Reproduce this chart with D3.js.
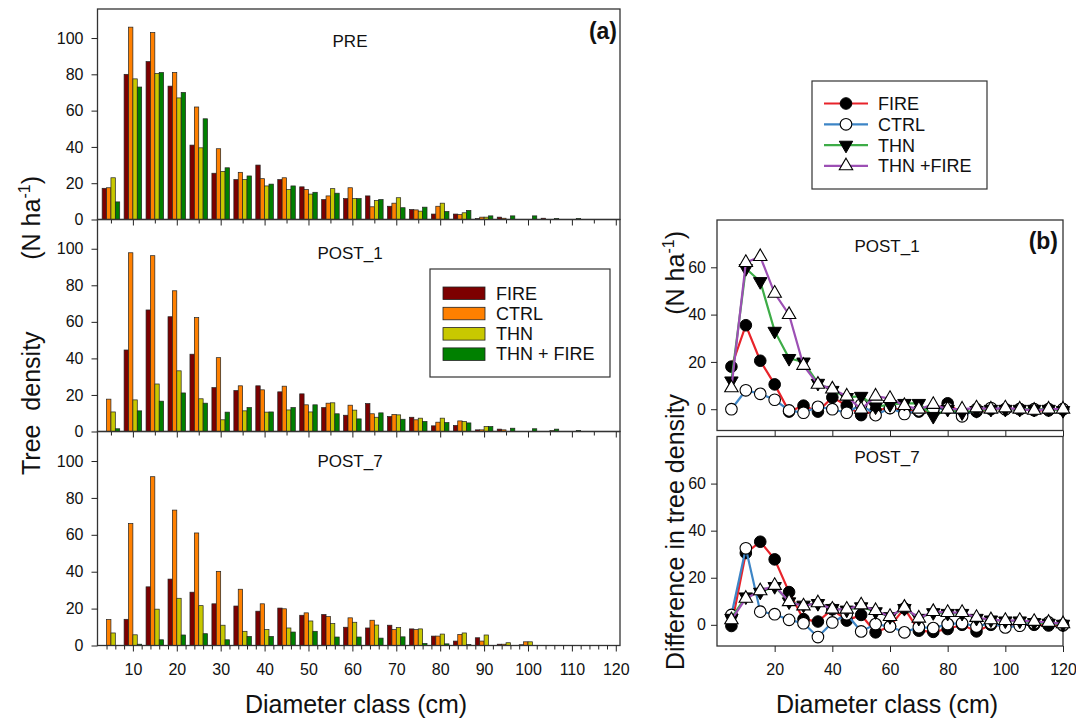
<!DOCTYPE html>
<html><head><meta charset="utf-8">
<script src="https://cdn.jsdelivr.net/npm/d3@7/dist/d3.min.js"></script>
<style>
body{margin:0;background:#fff}
text{font-family:"Liberation Sans",Arial,sans-serif;fill:#111}
</style>
</head><body>
<svg id="c" width="1076" height="728"></svg>
<script>
// ---------- DATA ----------
const classes = [5,10,15,20,25,30,35,40,45,50,55,60,65,70,75,80,85,90,95,100,105,110,115,120];
const barSeries = ["FIRE","CTRL","THN","THN + FIRE"];
const lineSeries = ["FIRE","CTRL","THN","THN +FIRE"];
const periodsA = ["PRE","POST_1","POST_7"];
const periodsB = ["POST_1","POST_7"];
const yTicksA = [0,20,40,60,80,100];
const yTicksB = [0,20,40,60];
const xTicksA = [10,20,30,40,50,60,70,80,90,100,110,120];
const xTicksB = [20,40,60,80,100,120];

// (a) tree density (N ha-1)
const pre_FIRE = [17.2,80,87,73.5,41,25.5,22,30,22,18,11,11.5,13,7.3,5.5,3,3,0.5,1.3,0,0.7,0,0,0];
const pre_CTRL = [17.5,106,103,81,62,39,26,22.5,23,16.5,13,17.5,7,9,5.3,7.3,2.7,1.3,0.7,0,0,0,0,0];
const pre_THN  = [23,77.5,80.5,67,39.5,26.5,22,18.5,16.5,14,17,11.5,10.5,12,4.6,9,3.7,1.3,0,0,0,0,0,0];
const pre_TF   = [9.7,73,81,70,55.5,28.5,24,19.5,18.5,15,14.5,11.5,11,6.5,6.8,4.4,5,2,2,2,0.6,0.6,0,0];

const post1_FIRE = [0,44.6,66.5,62.8,42.3,24,22.4,25,21.7,20.6,13.1,8.9,15.3,8.2,7.8,3.1,3.3,0.9,1.3,0,0,0,0,0];
const post1_CTRL = [17.7,97.8,96.2,77,62.3,40.4,25,22.8,24.8,14.6,15.5,14.4,9.7,9.3,6.4,5.1,5.8,0.9,0.9,0,0,0,0,0];
const post1_THN  = [10.7,17.3,26,33.2,17.9,6.4,11.3,10.6,11.8,10.7,15.7,11.7,7.8,9.1,7.3,7.3,5.5,2.7,0,0,0.5,0,0,0];
const post1_TF   = [1.5,11.3,16.6,21.1,15.5,10.6,13.1,10.7,13.1,14.6,9.7,6.9,10.2,6.7,5.5,4.9,4.7,2.7,1.8,1.5,1.3,0.6,0,0];

const post7_FIRE = [0,14.2,31.8,36,28.9,22.6,21.4,18.6,20.3,16.4,16.8,9.9,9.5,11,9,5.1,2.4,4.2,0.7,0.4,0,0,0,0];
const post7_CTRL = [14.1,66.1,91.5,73.4,61,40.2,30.5,22.6,19.9,17.7,15.7,15,13.7,8.6,8.6,5.1,6,2.4,0.7,2,0,0,0,0];
const post7_THN  = [6.8,5.8,19.7,25.6,21.6,11,7.7,8.6,9.5,13.3,11.9,12.6,11.1,9.7,9,6.2,6.8,5.7,1.5,2,0,0,0,0];
const post7_TF   = [0,0.7,3.1,5.7,6.4,3.1,4.9,4.9,7.3,7.7,4.6,4.6,4,4.7,1.1,0.9,0.5,0,0,0,0,0,0,0];

// (b) difference in tree density (N ha-1)
const d1_FIRE = [18,35.5,20.5,10.5,-1,1.5,-1,5,1.5,-2.5,-0.5,0.5,-0.5,-1,-0.5,2.5,-2,-1,0,0,0,-0.5,-0.5,0];
const d1_CTRL = [0,8,6.5,4,-0.5,-1.5,1,0,-1.5,2,-2.5,0.5,-2,-0.5,0,0.5,-3,0,0.5,0,0,0,0,0];
const d1_THN  = [12,59.5,54,33,21.5,20,11,8,5,5.5,1,2,2.5,2.5,-3,0,-1.5,-0.5,0,0,0,0,0,-0.5];
const d1_TF   = [9,62,64.5,49,40,18.5,10.5,8.5,5.5,0,5.5,4.5,1.5,0,2,0,0,0.5,0,0.5,0,-0.5,0,0];

const d7_FIRE = [-0.5,30.5,35.3,27.8,13.9,2.4,1.4,6.6,1.8,4.2,-3.2,-0.7,7,-2.5,-3,-1.8,0,-2.8,0,-0.4,0,0,-0.3,-0.3];
const d7_CTRL = [4.2,32.5,5.6,4.5,2.1,0.7,-5.2,1,4.5,-2.8,0.3,-0.7,-3.2,-1,-1.4,0.3,0.7,-0.7,0.7,-1.1,-0.4,0.7,1,0];
const d7_THN  = [2.8,11.9,13.9,16.3,9.8,8.4,9.1,7,6.3,7.7,5.6,3.5,7,2.8,5.2,4.9,4.9,2.8,2.1,1.7,1.7,1,0.7,0.3];
const d7_TF   = [2.1,11.2,14.4,16.7,9.8,8,9.3,6.6,6.6,8.4,6,3.5,7.4,2.8,5.6,5.2,5.2,3.1,2.1,1.8,1.8,1.4,1,0.4];

// ---------- STYLE / LAYOUT ----------
const svg = d3.select("#c");
const FONT = '"Liberation Sans",Arial,sans-serif';
const barColors = ["#7d0000","#ff8000","#c8c800","#008000"];
const lineColors = ["#e8232a","#3d85c6","#3dac47","#9c4fb4"];
const frameColor = "#333";

const dataA = [
  [pre_FIRE,pre_CTRL,pre_THN,pre_TF],
  [post1_FIRE,post1_CTRL,post1_THN,post1_TF],
  [post7_FIRE,post7_CTRL,post7_THN,post7_TF]
];
const dataB = [
  [d1_FIRE,d1_CTRL,d1_THN,d1_TF],
  [d7_FIRE,d7_CTRL,d7_THN,d7_TF]
];

const boxA = [{t:9,b:219.5,title:47},{t:219.5,b:431.5,title:259},{t:431.5,b:645.5,title:467}];
const AL = 97.5, AR = 620;
const xA = d3.scaleLinear().domain([1.94,120.96]).range([AL,AR]);

function styleAxis(g, size){
  g.attr("font-family",FONT).attr("font-size",size).attr("color","#222");
  g.select(".domain").remove();
  g.selectAll("text").style("fill","#111");
  g.selectAll("line").attr("stroke-width",1);
}

boxA.forEach((bx,i)=>{
  const y = d3.scaleLinear().domain([0,116]).range([bx.b,bx.t]);
  const g = svg.append("g");
  // bars
  dataA[i].forEach((vals,k)=>{
    g.selectAll(null).data(classes.map((c,j)=>({c,v:vals[j]})).filter(d=>d.v>0))
      .enter().append("rect")
      .attr("x",d=>xA(d.c-2+k))
      .attr("width",d=>xA(d.c-1+k)-xA(d.c-2+k))
      .attr("y",d=>y(d.v))
      .attr("height",d=>y(0)-y(d.v))
      .attr("fill",barColors[k])
      .attr("stroke","#222").attr("stroke-width",0.7);
  });
  // frame
  g.append("rect").attr("x",AL).attr("y",bx.t).attr("width",AR-AL).attr("height",bx.b-bx.t)
    .attr("fill","none").attr("stroke",frameColor).attr("stroke-width",1.3);
  // y axis
  g.append("g").attr("transform",`translate(${AL},0)`)
    .call(d3.axisLeft(y).tickValues(yTicksA).tickSize(6).tickPadding(8))
    .call(s=>styleAxis(s,16));
  // x axis
  if(i<2){
    g.append("g").attr("transform",`translate(0,${bx.b})`)
      .call(d3.axisBottom(xA).tickValues(xTicksA).tickSize(6).tickFormat(""))
      .call(s=>styleAxis(s,16));
    g.append("g").attr("transform",`translate(0,${bx.b})`)
      .call(d3.axisBottom(xA).tickValues(classes.filter(c=>c%10!==0)).tickSize(4).tickFormat(""))
      .call(s=>styleAxis(s,16));
  } else {
    g.append("g").attr("transform",`translate(0,${bx.b})`)
      .call(d3.axisBottom(xA).tickValues(xTicksA).tickSize(6).tickPadding(12))
      .call(s=>styleAxis(s,16));
    g.append("g").attr("transform",`translate(0,${bx.b})`)
      .call(d3.axisBottom(xA).tickValues(d3.range(4,121,2).filter(c=>c%10!==0)).tickSize(4).tickFormat(""))
      .call(s=>styleAxis(s,16));
  }
  g.append("text").attr("x",350).attr("y",bx.title).attr("text-anchor","middle")
    .attr("font-size",17).text(periodsA[i]);
});
svg.append("text").attr("x",617).attr("y",38.5).attr("text-anchor","end")
  .attr("font-size",23).attr("font-weight","bold").text("(a)");

// legend (a)
const lgA = svg.append("g");
lgA.append("rect").attr("x",430).attr("y",269).attr("width",180).attr("height",108)
  .attr("fill","#fff").attr("stroke",frameColor).attr("stroke-width",1.2);
barSeries.forEach((s,k)=>{
  const yy = 287 + k*20.3;
  lgA.append("rect").attr("x",443).attr("y",yy).attr("width",42).attr("height",12.5)
    .attr("fill",barColors[k]).attr("stroke","#222").attr("stroke-width",0.8);
  lgA.append("text").attr("x",496).attr("y",yy+12.5).attr("font-size",18).text(s);
});

// axis titles (a)
svg.append("text").attr("transform","translate(40,475) rotate(-90)").attr("font-size",25)
  .style("white-space","pre").text("Tree  density");
const ta = svg.append("text").attr("transform","translate(40,176) rotate(-90)")
  .attr("text-anchor","end").attr("font-size",25);
ta.append("tspan").text("(N ha");
ta.append("tspan").attr("font-size",16).attr("dy",-10).text("-1");
ta.append("tspan").attr("dy",10).text(")");
svg.append("text").attr("x",356).attr("y",713).attr("text-anchor","middle")
  .attr("font-size",25).text("Diameter class (cm)");

// ---------- PANEL (b) ----------
const BL = 717, BR = 1063;
const xB = d3.scaleLinear().domain([0,120]).range([BL,BR]);
const boxB = [{t:220,b:430.5,title:251.5},{t:436.5,b:646,title:463}];
const tri = d3.symbol().type(d3.symbolTriangle).size(78);

function marker(sel,k){
  if(k===0) sel.append("circle").attr("r",5.8).attr("fill","#000").attr("stroke","#000").attr("stroke-width",1);
  else if(k===1) sel.append("circle").attr("r",5.8).attr("fill","#fff").attr("stroke","#000").attr("stroke-width",1.1);
  else if(k===2) sel.append("path").attr("d",tri).attr("transform","rotate(180)").attr("fill","#000").attr("stroke","#000").attr("stroke-width",1);
  else sel.append("path").attr("d",tri).attr("fill","#fff").attr("stroke","#000").attr("stroke-width",1.1);
}

boxB.forEach((bx,i)=>{
  const y = d3.scaleLinear().domain([-9,80]).range([bx.b,bx.t]);
  const g = svg.append("g");
  g.append("rect").attr("x",BL).attr("y",bx.t).attr("width",BR-BL).attr("height",bx.b-bx.t)
    .attr("fill","none").attr("stroke",frameColor).attr("stroke-width",1.3);
  g.append("g").attr("transform",`translate(${BL},0)`)
    .call(d3.axisLeft(y).tickValues(yTicksB).tickSize(6).tickPadding(5))
    .call(s=>styleAxis(s,16));
  const ax = d3.axisBottom(xB).tickValues(xTicksB).tickSize(6);
  if(i===0) ax.tickFormat(""); else ax.tickPadding(12);
  g.append("g").attr("transform",`translate(0,${bx.b})`).call(ax).call(s=>styleAxis(s,16));
  const line = d3.line().x(d=>xB(d.c)).y(d=>y(d.v));
  dataB[i].forEach((vals,k)=>{
    const pts = classes.map((c,j)=>({c,v:vals[j]}));
    g.append("path").datum(pts).attr("d",line).attr("fill","none")
      .attr("stroke",lineColors[k]).attr("stroke-width",2.2);
    g.selectAll(null).data(pts).enter().append("g")
      .attr("transform",d=>`translate(${xB(d.c)},${y(d.v)})`)
      .each(function(){ marker(d3.select(this),k); });
  });
  g.append("text").attr("x",887).attr("y",bx.title).attr("text-anchor","middle")
    .attr("font-size",17).text(periodsB[i]);
});
svg.append("text").attr("x",1058).attr("y",249).attr("text-anchor","end")
  .attr("font-size",23).attr("font-weight","bold").text("(b)");

// legend (b)
const lgB = svg.append("g");
lgB.append("rect").attr("x",812).attr("y",81).attr("width",175).attr("height",108)
  .attr("fill","#fff").attr("stroke",frameColor).attr("stroke-width",1.2);
lineSeries.forEach((s,k)=>{
  const yy = 103.5 + k*20.8;
  lgB.append("line").attr("x1",824).attr("x2",868).attr("y1",yy).attr("y2",yy)
    .attr("stroke",lineColors[k]).attr("stroke-width",2.2);
  const m = lgB.append("g").attr("transform",`translate(846,${yy})`);
  marker(m,k);
  lgB.append("text").attr("x",878).attr("y",yy+6.5).attr("font-size",18).text(s);
});

// axis titles (b)
svg.append("text").attr("transform","translate(684,670) rotate(-90)").attr("font-size",25)
  .text("Difference in tree density");
const tb = svg.append("text").attr("transform","translate(684,231) rotate(-90)")
  .attr("text-anchor","end").attr("font-size",25);
tb.append("tspan").text("(N ha");
tb.append("tspan").attr("font-size",16).attr("dy",-10).text("-1");
tb.append("tspan").attr("dy",10).text(")");
svg.append("text").attr("x",887).attr("y",713).attr("text-anchor","middle")
  .attr("font-size",25).text("Diameter class (cm)");
</script>
</body></html>
